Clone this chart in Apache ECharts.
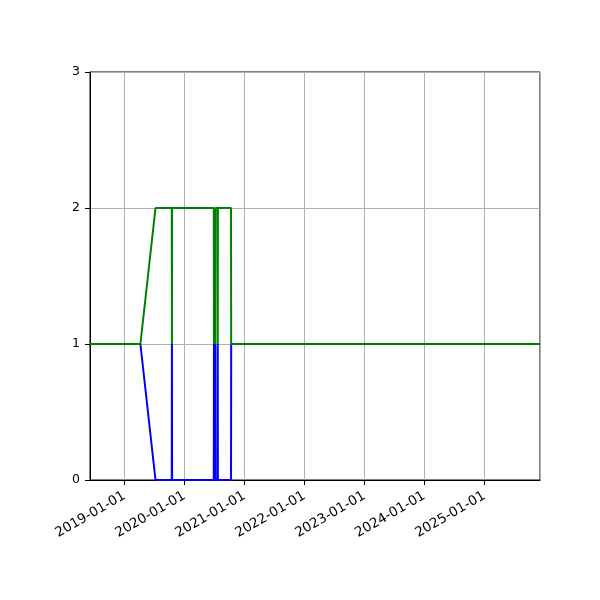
<!DOCTYPE html>
<html>
<head>
<meta charset="utf-8">
<script src="https://cdn.jsdelivr.net/npm/echarts@6/dist/echarts.min.js"></script>
<style>
  html, body { margin: 0; padding: 0; background: #fff; }
  #chart { width: 600px; height: 600px; }
</style>
</head>
<body>
<div id="chart"></div>
<script>
// ---- data ----
const dates = [
  '2018-06-05', '2019-04-08', '2019-07-09',
  '2019-10-16', '2019-10-17', '2019-10-18',
  '2020-06-28', '2020-06-29', '2020-06-30',
  '2020-07-06', '2020-07-07', '2020-07-08',
  '2020-07-21', '2020-07-22', '2020-07-23',
  '2020-10-11', '2020-10-12', '2025-12-06'
];
const blueValues  = [1, 1, 0, 0, 1, 0, 0, 1, 0, 0, 1, 0, 0, 1, 0, 0, 1, 1];
const greenValues = [1, 1, 2, 2, 1, 2, 2, 1, 2, 2, 1, 2, 2, 1, 2, 2, 1, 1];
const xRange = ['2018-06-05', '2025-12-06'];
const yTicks = [0, 1, 2, 3];

function ts(s) {
  const p = s.split('-').map(Number);
  return Date.UTC(p[0], p[1] - 1, p[2]);
}

const chart = echarts.init(document.getElementById('chart'), null, { renderer: 'canvas' });
const font = 'DejaVu Sans';

chart.setOption({
  useUTC: true,
  animation: false,
  backgroundColor: '#ffffff',
  grid: {
    left: 90, right: 60, top: 72, bottom: 120,
    show: true, borderColor: '#000000', borderWidth: 1, backgroundColor: 'transparent'
  },
  xAxis: {
    type: 'time',
    min: ts(xRange[0]),
    max: ts(xRange[1]),
    splitNumber: 7,
    axisLine: { show: true, lineStyle: { color: '#000', width: 1 } },
    axisTick: { show: true, length: 5, inside: false, lineStyle: { color: '#000', width: 1 } },
    splitLine: { show: true, lineStyle: { color: '#b0b0b0', width: 1 } },
    axisLabel: {
      rotate: 30,
      formatter: '{yyyy}-{MM}-{dd}',
      fontSize: 13.5,
      fontFamily: font,
      color: '#000',
      margin: 15,
      showMinLabel: false,
      showMaxLabel: false,
      hideOverlap: false
    },
    minorTick: { show: false },
    minorSplitLine: { show: false }
  },
  yAxis: {
    type: 'value',
    min: yTicks[0],
    max: yTicks[yTicks.length - 1],
    interval: 1,
    axisLine: { show: true, lineStyle: { color: '#000', width: 1 } },
    axisTick: { show: true, length: 5, inside: false, lineStyle: { color: '#000', width: 1 } },
    splitLine: { show: true, lineStyle: { color: '#b0b0b0', width: 1 } },
    axisLabel: { fontSize: 12.5, fontFamily: font, color: '#000', margin: 10 }
  },
  series: [
    {
      type: 'line',
      data: dates.map((d, i) => [ts(d), blueValues[i]]),
      showSymbol: false,
      symbol: 'none',
      lineStyle: { color: '#0000ff', width: 2 },
      itemStyle: { color: '#0000ff' },
      z: 2
    },
    {
      type: 'line',
      data: dates.map((d, i) => [ts(d), greenValues[i]]),
      showSymbol: false,
      symbol: 'none',
      lineStyle: { color: '#008000', width: 2 },
      itemStyle: { color: '#008000' },
      z: 3
    }
  ]
});
</script>
</body>
</html>
